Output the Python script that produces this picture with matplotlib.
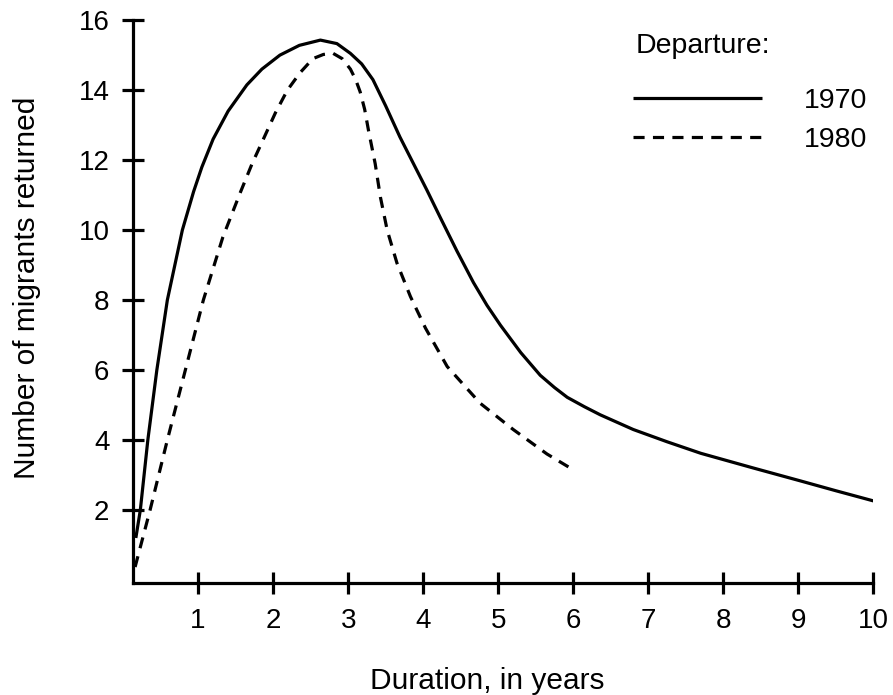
import matplotlib
matplotlib.use("Agg")
import matplotlib.pyplot as plt

plt.rcParams['font.family'] = ['Liberation Sans', 'DejaVu Sans']
plt.rcParams['lines.scale_dashes'] = False

# values (duration in years, migrants returned)
years_1970 = [0.17, 0.23, 0.33, 0.45, 0.59, 0.79, 0.94, 1.05, 1.2, 1.4, 1.65, 1.85, 2.09,
              2.35, 2.63, 2.85, 3.03, 3.18, 3.33, 3.5, 3.69, 3.87, 4.05, 4.23, 4.45, 4.67,
              4.85, 5.03, 5.3, 5.56, 5.75, 5.92, 6.15, 6.36, 6.8, 7.25, 7.7, 8.4, 9.03,
              9.5, 10.0]
returned_1970 = [1.2, 2.0, 4.0, 6.0, 8.0, 10.0, 11.1, 11.8, 12.6, 13.4, 14.15, 14.6, 15.0,
                 15.28, 15.43, 15.33, 15.05, 14.75, 14.3, 13.55, 12.66, 11.9, 11.14, 10.35,
                 9.4, 8.5, 7.85, 7.28, 6.5, 5.85, 5.5, 5.22, 4.95, 4.72, 4.3, 3.95, 3.62,
                 3.2, 2.83, 2.55, 2.26]

years_1980 = [0.16, 0.36, 0.59, 0.83, 1.07, 1.33, 1.56, 1.72, 1.87, 2.03, 2.19, 2.36, 2.53,
              2.67, 2.8, 2.92, 3.03, 3.1, 3.16, 3.22, 3.27, 3.36, 3.43, 3.52, 3.65, 3.83,
              4.03, 4.32, 4.76, 5.2, 5.65, 5.96]
returned_1980 = [0.37, 2.0, 4.0, 6.0, 8.0, 9.8, 11.06, 11.9, 12.6, 13.35, 14.0, 14.5, 14.9,
                 15.02, 15.05, 14.9, 14.6, 14.3, 13.95, 13.45, 12.86, 11.9, 10.94, 10.0,
                 9.06, 8.1, 7.2, 6.1, 5.05, 4.3, 3.6, 3.2]

x_ticks = [1, 2, 3, 4, 5, 6, 7, 8, 9, 10]
y_ticks = [2, 4, 6, 8, 10, 12, 14, 16]

fig = plt.figure(figsize=(8.93, 6.95), dpi=100)
ax = fig.add_axes([0.149, 0.161, 0.829, 0.810])

ax.plot(years_1970, returned_1970, color="black", lw=2.3, solid_capstyle="butt",
        solid_joinstyle="round", label="1970")
ax.plot(years_1980, returned_1980, color="black", lw=2.3, dashes=(8, 6),
        dash_capstyle="butt", label="1980")

ax.set_xlim(0.133, 10)
ax.set_ylim(-0.09, 16)
ax.set_xticks(x_ticks)
ax.set_yticks(y_ticks)
ax.tick_params(direction="inout", length=16, width=2.3, labelsize=20, colors="black")
ax.tick_params(axis="x", pad=10)
ax.tick_params(axis="y", pad=9)
for side in ["top", "right"]:
    ax.spines[side].set_visible(False)
for side in ["left", "bottom"]:
    ax.spines[side].set_linewidth(2.3)

ax.set_xlabel("Duration, in years", fontsize=21.5, labelpad=24, x=0.478)
ax.set_ylabel("Number of migrants returned", fontsize=21.5, labelpad=27, y=0.524)

# legend title drawn on its own so the gap under it matches
ax.text(0.679, 0.954, "Departure:", transform=ax.transAxes, fontsize=20.5,
        ha="left", va="center")
ax.legend(loc="center left", bbox_to_anchor=(0.676, 0.822), frameon=False,
          fontsize=20.5, handlelength=4.5, handletextpad=1.5, labelspacing=0.45,
          borderpad=0, borderaxespad=0)

plt.savefig("out.png", dpi=100)
plt.close()
